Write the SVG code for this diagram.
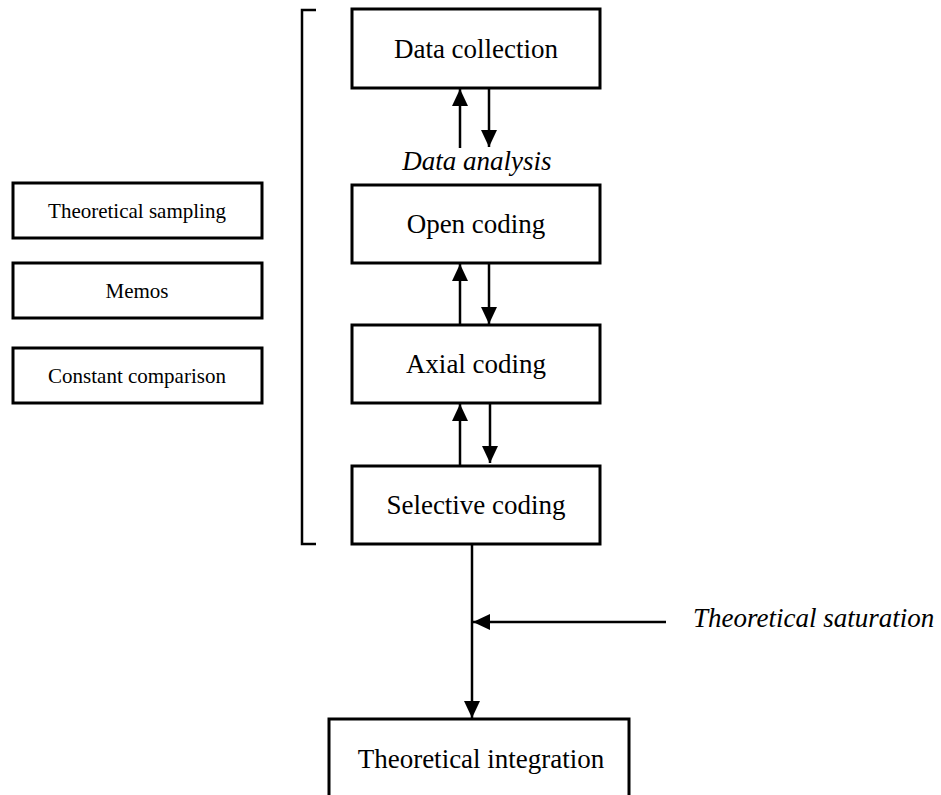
<svg xmlns="http://www.w3.org/2000/svg" width="941" height="795" viewBox="0 0 941 795">
  <style>
    .box { fill: #ffffff; stroke: #000000; stroke-width: 3; }
    .lbl { font-family: "Liberation Serif", "Times New Roman", serif; font-size: 27px; fill: #000000; text-anchor: middle; }
    .side { font-family: "Liberation Serif", "Times New Roman", serif; font-size: 21px; fill: #000000; text-anchor: middle; }
    .note { font-family: "Liberation Serif", "Times New Roman", serif; font-size: 27px; font-style: italic; fill: #000000; }
    .wire { fill: none; stroke: #000000; stroke-width: 2.5; }
    .brace { fill: none; stroke: #000000; stroke-width: 2.5; }
  </style>
  <defs>
    <marker id="head" viewBox="0 0 17 16" markerWidth="17" markerHeight="16" refX="17" refY="8" orient="auto" markerUnits="userSpaceOnUse">
      <path d="M0,0 L17,8 L0,16 z" fill="#000000"/>
    </marker>
  </defs>
  <rect width="941" height="795" fill="#ffffff"/>

  <!-- supporting techniques -->
  <g id="theoretical-sampling">
    <rect class="box" x="13" y="183" width="249" height="55"/>
    <text class="side" x="137" y="218">Theoretical sampling</text>
  </g>
  <g id="memos">
    <rect class="box" x="13" y="263" width="249" height="55"/>
    <text class="side" x="137" y="298">Memos</text>
  </g>
  <g id="constant-comparison">
    <rect class="box" x="13" y="348" width="249" height="55"/>
    <text class="side" x="137" y="383">Constant comparison</text>
  </g>

  <!-- bracket grouping the coding stages -->
  <path class="brace" d="M316,10 L302,10 L302,544 L316,544"/>

  <!-- main stages -->
  <g id="data-collection">
    <rect class="box" x="352" y="9" width="248" height="79"/>
    <text class="lbl" x="476" y="58">Data collection</text>
  </g>
  <g id="data-analysis">
    <text class="note" x="477" y="170" text-anchor="middle">Data analysis</text>
  </g>
  <g id="open-coding">
    <rect class="box" x="352" y="185" width="248" height="78"/>
    <text class="lbl" x="476" y="233">Open coding</text>
  </g>
  <g id="axial-coding">
    <rect class="box" x="352" y="325" width="248" height="78"/>
    <text class="lbl" x="476" y="373">Axial coding</text>
  </g>
  <g id="selective-coding">
    <rect class="box" x="352" y="466" width="248" height="78"/>
    <text class="lbl" x="476" y="514">Selective coding</text>
  </g>
  <g id="theoretical-integration">
    <rect class="box" x="329" y="719" width="300" height="90"/>
    <text class="lbl" x="481" y="768">Theoretical integration</text>
  </g>
  <g id="theoretical-saturation">
    <text class="note" x="693" y="627">Theoretical saturation</text>
  </g>

  <!-- connectors -->
  <g id="connectors">
    <line class="wire" x1="460" y1="148" x2="460" y2="89" marker-end="url(#head)"/>
    <line class="wire" x1="489" y1="89" x2="489" y2="147" marker-end="url(#head)"/>
    <line class="wire" x1="460" y1="324" x2="460" y2="264" marker-end="url(#head)"/>
    <line class="wire" x1="489" y1="264" x2="489" y2="324" marker-end="url(#head)"/>
    <line class="wire" x1="460" y1="465" x2="460" y2="404" marker-end="url(#head)"/>
    <line class="wire" x1="490" y1="404" x2="490" y2="463" marker-end="url(#head)"/>
    <line class="wire" x1="472" y1="545" x2="472" y2="718" marker-end="url(#head)"/>
    <line class="wire" x1="666" y1="622" x2="473" y2="622" marker-end="url(#head)"/>
  </g>
</svg>
